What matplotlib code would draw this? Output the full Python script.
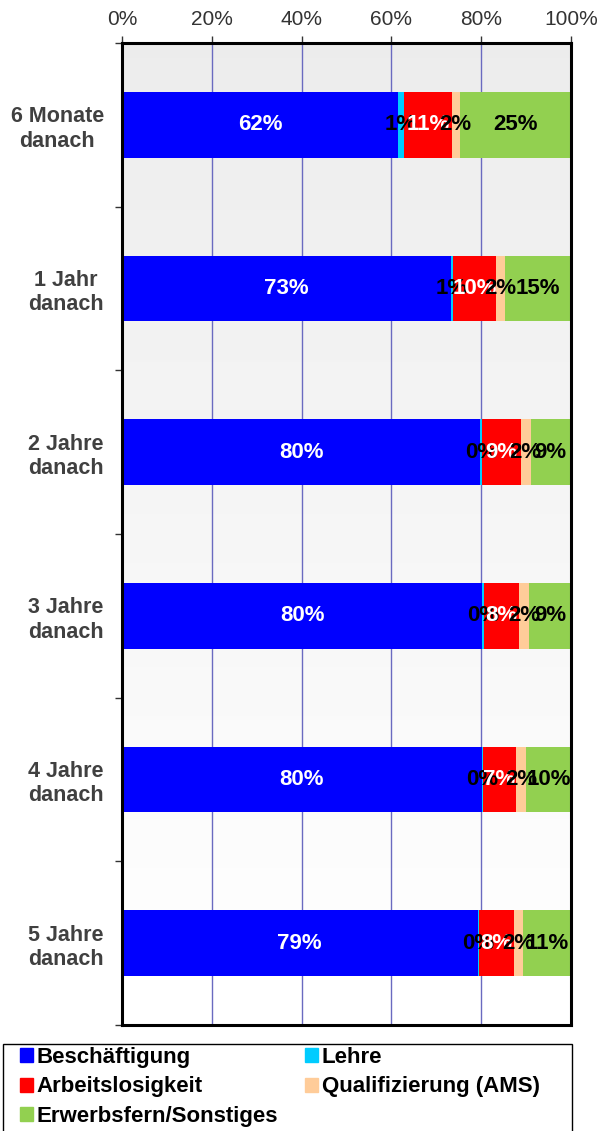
import matplotlib
matplotlib.use("Agg")
import matplotlib.pyplot as plt
import matplotlib.patches as mpatches
import numpy as np

plt.rcParams["font.family"] = ["Liberation Sans", "DejaVu Sans"]

# data (percent of persons per status)
categories = ["6 Monate\ndanach", "1 Jahr\ndanach", "2 Jahre\ndanach",
              "3 Jahre\ndanach", "4 Jahre\ndanach", "5 Jahre\ndanach"]
series_names = ["Beschäftigung", "Lehre", "Arbeitslosigkeit",
                "Qualifizierung (AMS)", "Erwerbsfern/Sonstiges"]
beschaeftigung = [61.5, 73.2, 79.8, 80.2, 80.1, 79.2]
lehre = [1.3, 0.6, 0.3, 0.4, 0.3, 0.4]
arbeitslos = [10.6, 9.6, 8.7, 7.9, 7.4, 7.7]
qualifizierung = [1.8, 1.9, 2.2, 2.2, 2.2, 2.1]
sonstiges = [24.8, 14.7, 9.0, 9.3, 10.0, 10.6]
x_ticks = [0, 20, 40, 60, 80, 100]

series = [beschaeftigung, lehre, arbeitslos, qualifizierung, sonstiges]
colors = ["#0000ff", "#00ccff", "#ff0000", "#ffcc99", "#92d050"]
label_colors = ["white", "black", "white", "black", "black"]

W, H = 597, 1131
fig = plt.figure(figsize=(W / 100, H / 100), dpi=100)
ax = fig.add_axes([122 / W, 1 - 1025 / H, 449 / W, 982 / H])

n = len(categories)
ypos = np.arange(n)

# background gradient grey -> white
grad = np.linspace(0.925, 1.0, 200).reshape(-1, 1)
ax.imshow(grad, extent=(0, 100, n - 0.5, -0.5), aspect="auto",
          cmap="gray", vmin=0, vmax=1, zorder=0)

for x in x_ticks[1:-1]:
    ax.axvline(x, color="#6a6ac0", linewidth=1.0, zorder=1)

left = np.zeros(n)
for vals, col, lcol in zip(series, colors, label_colors):
    vals = np.array(vals)
    ax.barh(ypos, vals, left=left, height=0.4, color=col, zorder=2)
    for y, l, v in zip(ypos, left, vals):
        ax.text(l + v / 2, y, f"{v:.0f}%", ha="center", va="center",
                color=lcol, fontsize=16, fontweight="bold", zorder=3)
    left = left + vals

ax.set_xlim(0, 100)
ax.set_ylim(n - 0.5, -0.5)

ax.xaxis.tick_top()
ax.set_xticks(x_ticks)
ax.set_xticklabels([f"{t}%" for t in x_ticks], fontsize=15, color="#333333")
ax.tick_params(axis="x", length=5, width=1, pad=5, color="#333333")

ax.set_yticks(np.arange(-0.5, n, 1.0))
ax.set_yticklabels([])
ax.set_yticks(ypos, minor=True)
ax.set_yticklabels(categories, minor=True, fontsize=15.5, fontweight="bold",
                   color="#404040", multialignment="center")
ax.tick_params(axis="y", which="major", length=5, width=1, color="#333333")
ax.tick_params(axis="y", which="minor", length=0, pad=13)

for sp in ax.spines.values():
    sp.set_linewidth(2.2)
    sp.set_color("black")
    sp.set_zorder(4)

# legend frame (runs past the bottom edge like the original)
frame = mpatches.Rectangle((3 / W, -0.05), 569 / W, 1 - 1044 / H + 0.05,
                           transform=fig.transFigure, facecolor="white",
                           edgecolor="black", linewidth=1.0)
fig.add_artist(frame)

# legend laid out row-wise in two columns
handles = [mpatches.Patch(color=c, label=s) for c, s in zip(colors, series_names)]
order = [0, 2, 4, 1, 3]
leg = fig.legend([handles[i] for i in order], [series_names[i] for i in order],
                 loc="upper left", ncol=2, frameon=False,
                 bbox_to_anchor=(20 / W, 1 - 1047 / H),
                 prop={"size": 16, "weight": "bold"},
                 handlelength=0.6, handleheight=0.6, handletextpad=0.15,
                 labelspacing=0.38, borderpad=0, borderaxespad=0,
                 columnspacing=1.2)

fig.savefig("out.png", dpi=100)
